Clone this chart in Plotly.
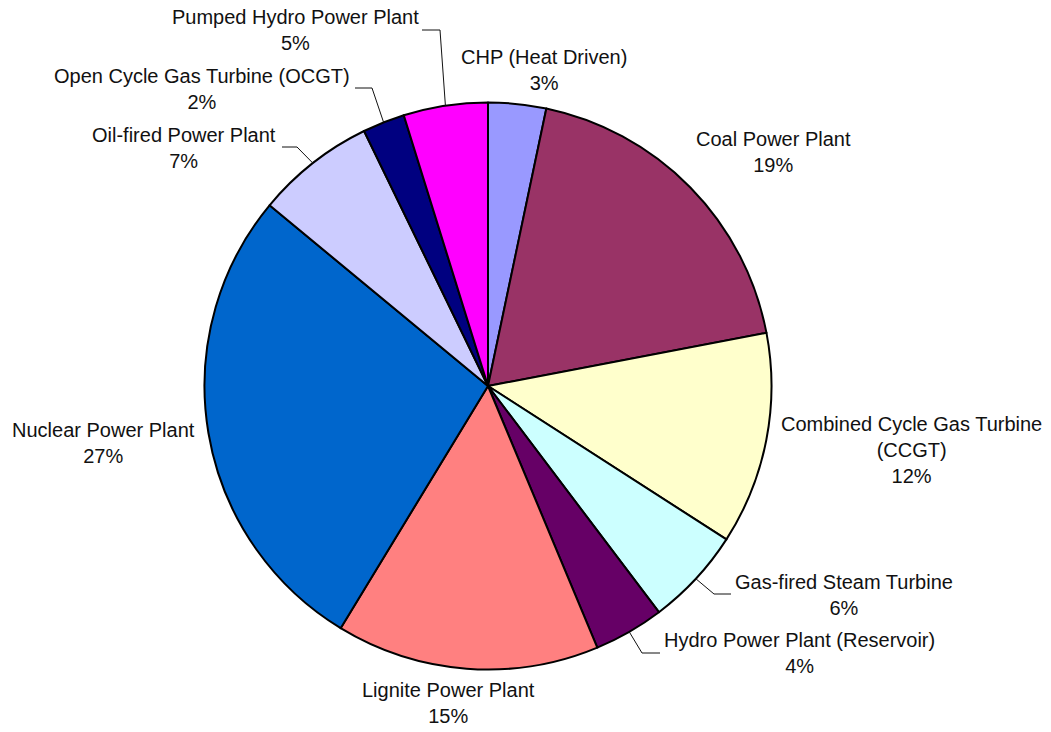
import math
import plotly.graph_objects as go

# ---- data ----
labels = [
    "CHP (Heat Driven)",
    "Coal Power Plant",
    "Combined Cycle Gas Turbine<br>(CCGT)",
    "Gas-fired Steam Turbine",
    "Hydro Power Plant (Reservoir)",
    "Lignite Power Plant",
    "Nuclear Power Plant",
    "Oil-fired Power Plant",
    "Open Cycle Gas Turbine (OCGT)",
    "Pumped Hydro Power Plant",
]
values = [3.3, 18.7, 12.1, 5.6, 4.0, 15.0, 27.3, 6.8, 2.4, 4.8]
colors = ["#9999FF", "#993366", "#FFFFCC", "#CCFFFF", "#660066",
          "#FF8080", "#0066CC", "#CCCCFF", "#000080", "#FF00FF"]

# ---- layout constants (pixels) ----
W, H = 1051, 732
CX, CY, R = 488, 386, 283.5
# label text centres
label_pos = [
    (544, 70), (773, 152), (911, 450), (844, 595), (799, 653),
    (448, 703), (103, 443), (184, 148), (202, 89), (295, 30),
]
# leader lines: (elbow_x, elbow_y, end_x) or None
leaders = [
    None, None, None,
    (714, 594, 731),
    (642, 653, 660),
    None, None,
    (297, 147, 282),
    (372, 88, 355),
    (440, 30, 422),
]


def px(x):
    return x / W


def py(y):
    return 1 - y / H


fig = go.Figure(go.Pie(
    labels=labels,
    values=values,
    sort=False,
    direction="clockwise",
    rotation=0,
    textinfo="none",
    marker=dict(colors=colors, line=dict(color="black", width=2)),
    domain=dict(x=[px(CX - R), px(CX + R)], y=[py(CY + R), py(CY - R)]),
    showlegend=False,
))

total = sum(values)
cum = 0.0
annotations = []
shapes = []
for i, (lab, v) in enumerate(zip(labels, values)):
    mid = (cum + v / 2) / total * 360.0
    cum += v
    pct = round(v / total * 100)
    lx, ly = label_pos[i]
    annotations.append(dict(
        x=px(lx), y=py(ly), xref="paper", yref="paper",
        text=f"{lab}<br>{pct}%", showarrow=False,
        xanchor="center", yanchor="middle", align="center",
        font=dict(family="Liberation Sans, Arial, sans-serif", size=20, color="#111111"),
    ))
    if leaders[i] is not None:
        ex, ey, endx = leaders[i]
        th = math.radians(mid)
        sx = CX + R * math.sin(th)
        sy = CY - R * math.cos(th)
        path = f"M {px(sx)},{py(sy)} L {px(ex)},{py(ey)} L {px(endx)},{py(ey)}"
        shapes.append(dict(type="path", xref="paper", yref="paper", path=path,
                           line=dict(color="#111111", width=1)))

fig.update_layout(
    width=W, height=H,
    margin=dict(l=0, r=0, t=0, b=0),
    paper_bgcolor="white", plot_bgcolor="white",
    annotations=annotations,
    shapes=shapes,
)

fig.write_html(
    "out.html",
    config={"displayModeBar": False},
    post_script="document.body.style.margin='0';document.body.style.overflow='hidden';",
)
